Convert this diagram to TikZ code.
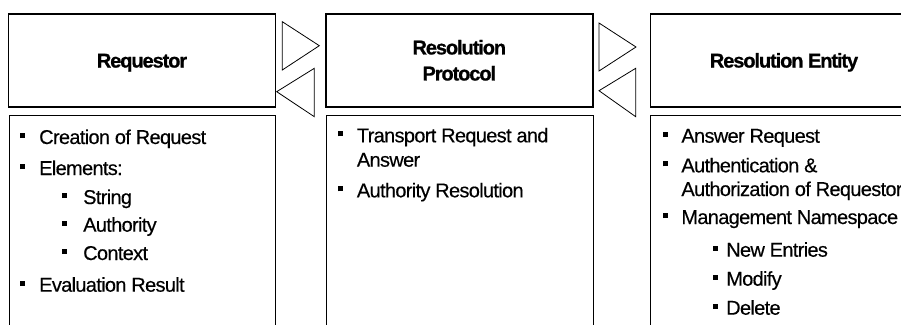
\documentclass[tikz,border=0pt]{standalone}
\usepackage{fontspec}
\setmainfont{Liberation Sans}[LetterSpace=-3.4,FakeBold=0.35,BoldFeatures={LetterSpace=-5.4,FakeBold=0.8}]
\usetikzlibrary{positioning}

\tikzset{
	headbox/.style={draw, line width=1.6pt, minimum width=267pt, minimum height=93pt, inner sep=0pt, align=center, font=\bfseries\fontsize{20}{26}\selectfont},
	bodybox/.style={draw, line width=0.9pt},
	flowtri/.style={draw, line width=0.8pt, line join=miter},
	entry/.style={anchor=base west, inner sep=0pt, font=\fontsize{20}{24}\selectfont}
}
\newcommand{\blt}{\rule[6pt]{5pt}{5pt}}

\begin{document}
\begin{tikzpicture}[x=1pt, y=-1pt]
		\useasboundingbox (0,0) rectangle (901,324);
		\clip (0,0) rectangle (901,324);

		\node[headbox, text height=14.5pt, text depth=0pt] (req) at (142,60.3) {Requestor};
		\node[headbox] (proto) at (459.3,60.3) {Resolution\\Protocol};
		\node[headbox, text height=14.5pt, text depth=0pt] (ent) at (784,60.3) {Resolution Entity};

		\draw[bodybox] (9,115.5) rectangle (275,340);
		\draw[bodybox] (326,115.5) rectangle (593,340);
		\draw[bodybox] (650.5,115.5) rectangle (918,340);

		\draw[flowtri] (282.3,21.7) -- (319.3,45.7) -- (282.3,70) -- cycle;
		\draw[flowtri] (314.3,68.3) -- (276.7,91.7) -- (314.3,116.7) -- cycle;
		\draw[flowtri] (599,23) -- (636,47) -- (599,71) -- cycle;
		\draw[flowtri] (635.7,68.3) -- (599,90.7) -- (635.7,116.7) -- cycle;

		\node[entry] (r1) at (20,144) {\blt\hspace{14pt}Creation of Request};
		\node[entry] (r2) at (20,175) {\blt\hspace{14pt}Elements:};
		\node[entry] (r3) at (62,204) {\blt\hspace{16pt}String};
		\node[entry] (r4) at (62,231.7) {\blt\hspace{16pt}Authority};
		\node[entry] (r5) at (62,260) {\blt\hspace{16pt}Context};
		\node[entry] (r6) at (20,291.7) {\blt\hspace{14pt}Evaluation Result};

		\node[entry] (p1) at (337.7,142.3) {\blt\hspace{14pt}Transport Request and};
		\node[entry] (p1b) at (356.7,166.7) {Answer};
		\node[entry] (p2) at (337.7,197.3) {\blt\hspace{14pt}Authority Resolution};

		\node[entry] (e1) at (662.7,142.7) {\blt\hspace{13.5pt}Answer Request};
		\node[entry] (e2) at (662.7,172.3) {\blt\hspace{13.5pt}Authentication \&};
		\node[entry] (e2b) at (681.2,196) {Authorization of Requestor};
		\node[entry] (e3) at (662.7,224) {\blt\hspace{13.5pt}Management Namespace};
		\node[entry] (e4) at (713,256.7) {\blt\hspace{8pt}New Entries};
		\node[entry] (e5) at (713,285.7) {\blt\hspace{8pt}Modify};
		\node[entry] (e6) at (713,314.7) {\blt\hspace{8pt}Delete};
	\end{tikzpicture}
\end{document}
